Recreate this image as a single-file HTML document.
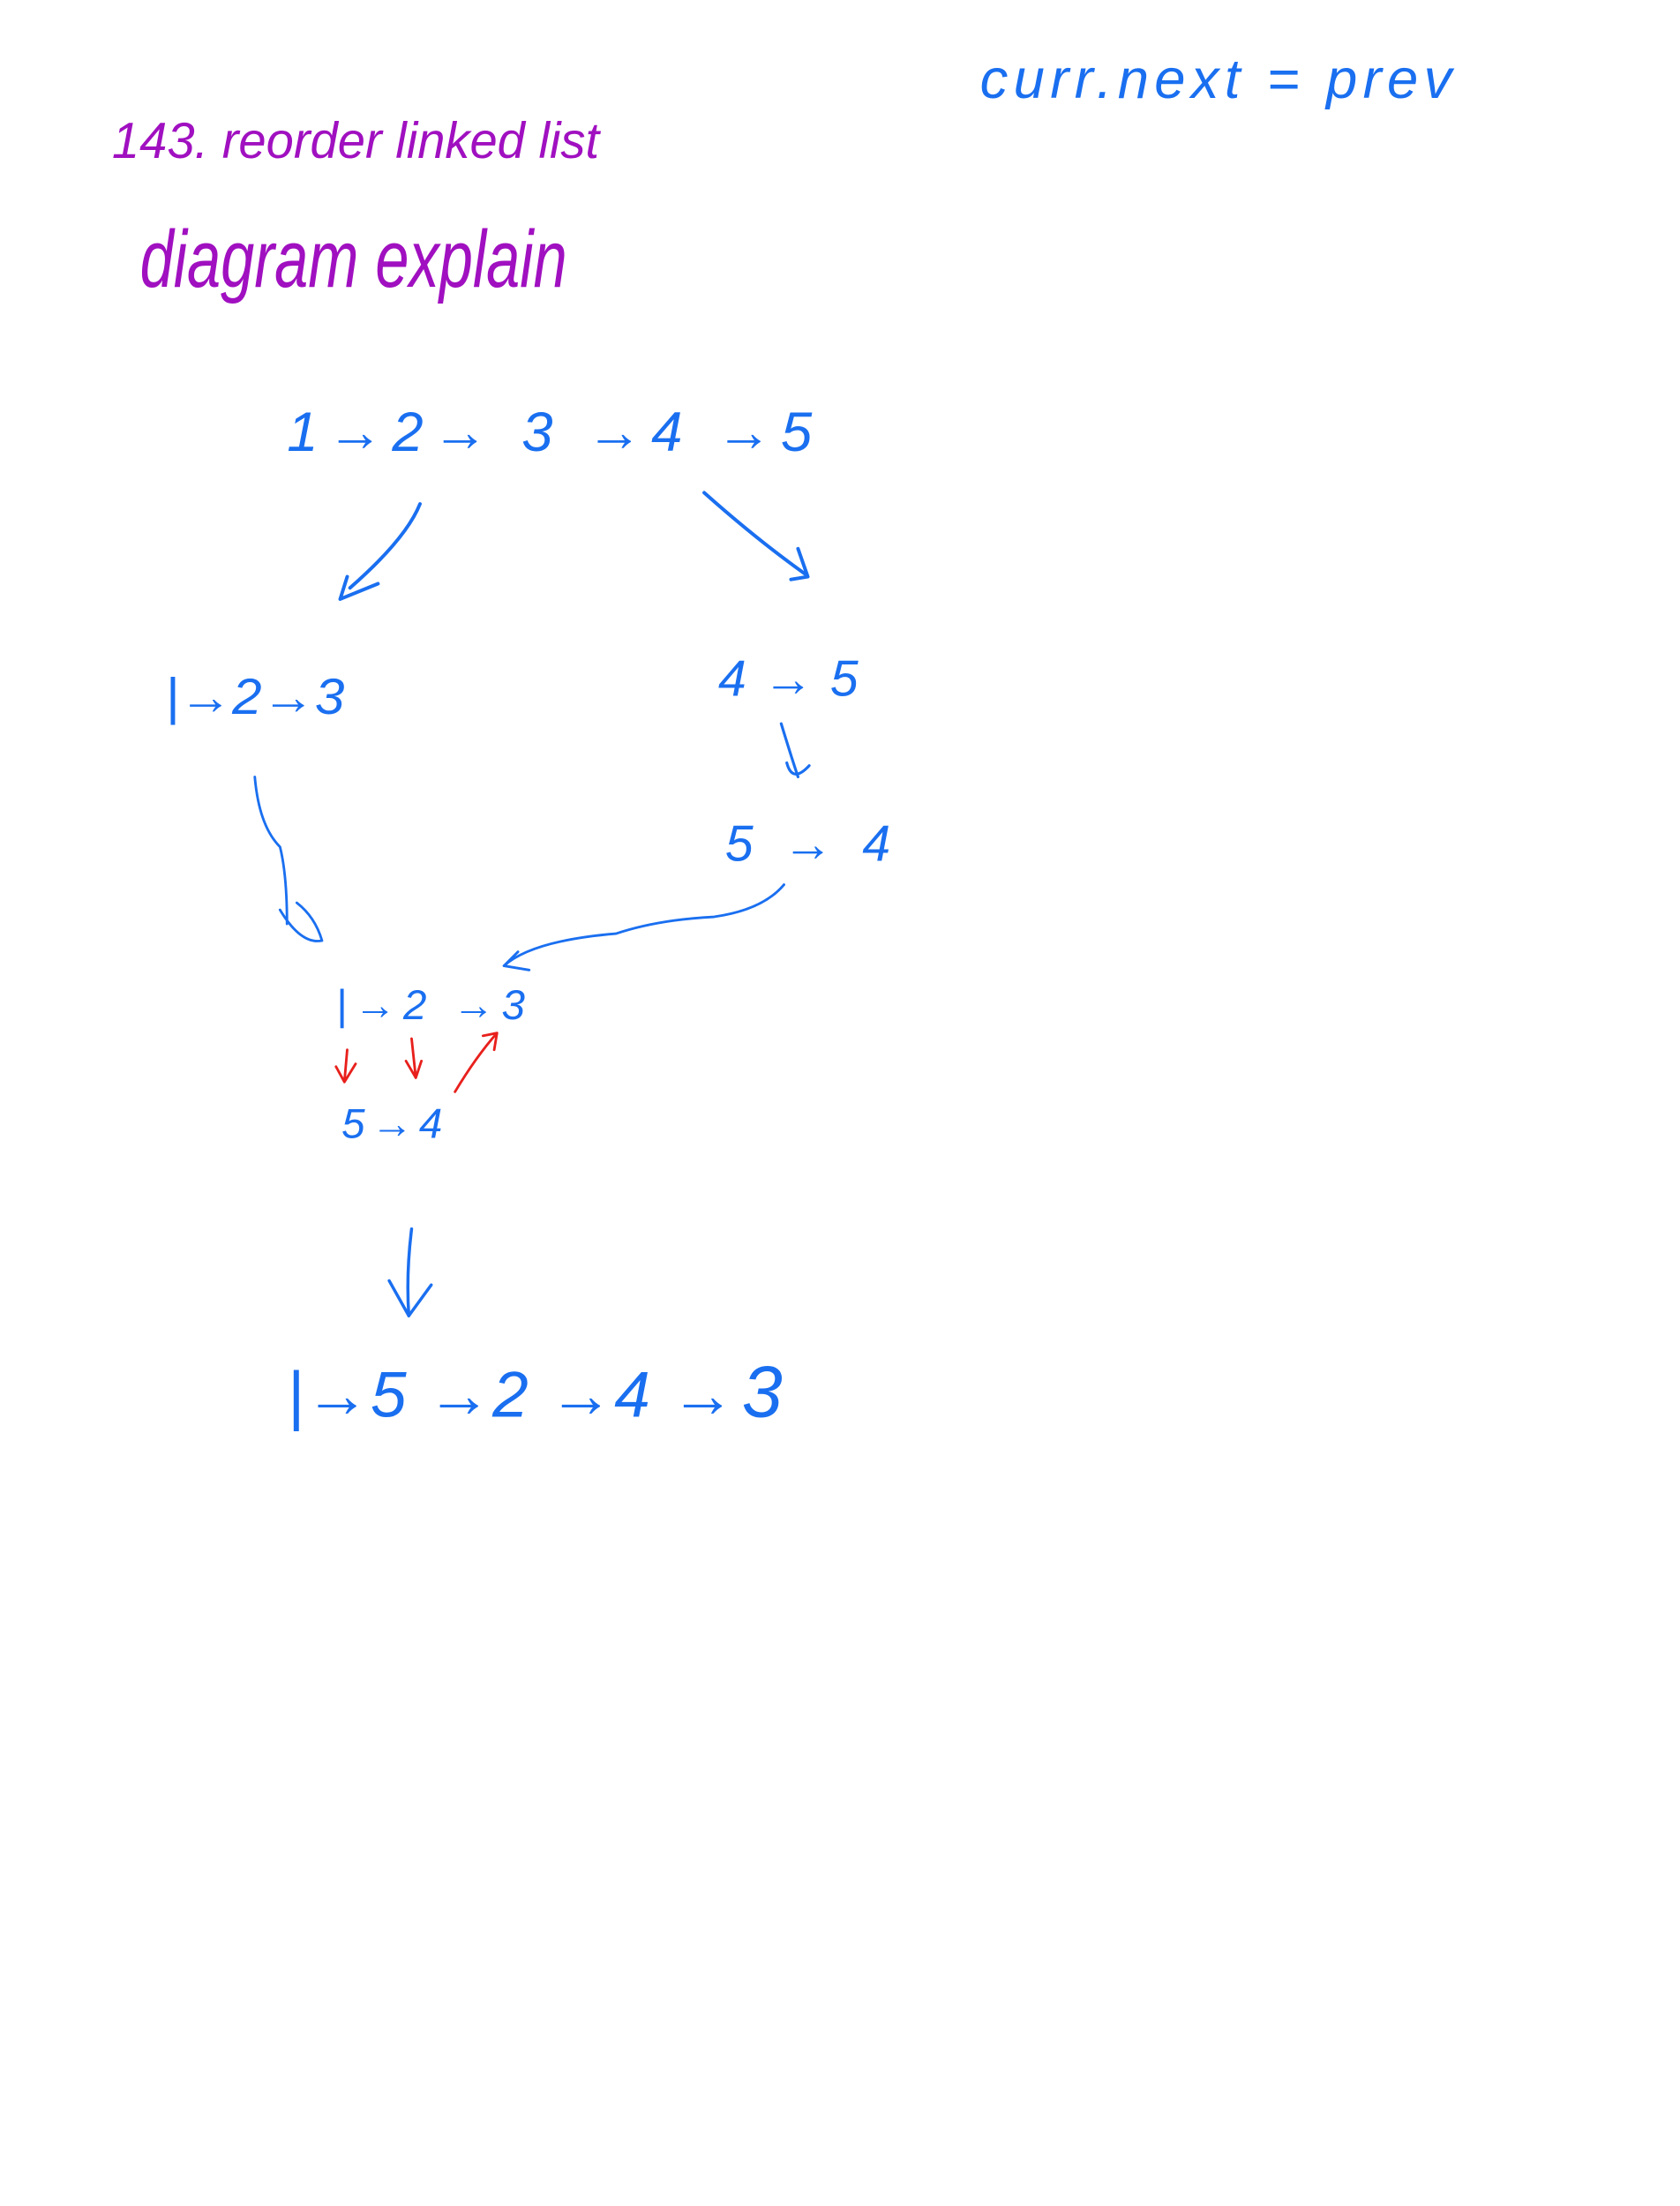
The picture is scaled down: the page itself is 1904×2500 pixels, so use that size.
<!DOCTYPE html>
<html>
<head>
<meta charset="utf-8">
<style>
  html,body{margin:0;padding:0;background:#fff;}
  svg{display:block;}
  text{font-family:"Liberation Sans",sans-serif;font-style:italic;font-weight:normal;}
</style>
</head>
<body>
<svg width="1904" height="2500" viewBox="0 0 1200 1576" preserveAspectRatio="none" xmlns="http://www.w3.org/2000/svg">
  <rect width="1200" height="1576" fill="#fff"/>
  <g fill="none" stroke-linecap="round" stroke-linejoin="round">
    <text x="700" y="70" font-size="40" fill="#1a6ff0" stroke="none" textLength="337" lengthAdjust="spacing">curr.next = prev</text>
    <text x="80" y="113" font-size="36" fill="#a010c0" stroke="none" textLength="348" lengthAdjust="spacingAndGlyphs">143. reorder linked list</text>
    <text x="100" y="205" font-size="58" fill="#a010c0" stroke="none" textLength="305" lengthAdjust="spacingAndGlyphs">diagram explain</text>

    <text x="205" y="322" font-size="40" fill="#1a6ff0" stroke="none" textLength="375" lengthAdjust="spacing">1→2→ 3 →4 →5</text>

    <g stroke="#1a6ff0" stroke-width="2.5">
      <path d="M300 360 Q290 385 250 420"/>
      <path d="M243 428 L248 412 M243 428 L270 417"/>
    </g>
    <g stroke="#1a6ff0" stroke-width="2.5">
      <path d="M503 352 Q540 385 575 410"/>
      <path d="M577 412 L570 392 M577 412 L565 414"/>
    </g>

    <text x="118" y="510" font-size="36" fill="#1a6ff0" stroke="none" textLength="128" lengthAdjust="spacingAndGlyphs">|→2→3</text>
    <text x="513" y="497" font-size="36" fill="#1a6ff0" stroke="none" textLength="100" lengthAdjust="spacing">4 → 5</text>

    <g stroke="#1a6ff0" stroke-width="2">
      <path d="M558 517 Q565 540 570 555"/>
      <path d="M562 545 Q566 560 578 547"/>
    </g>
    <text x="518" y="615" font-size="36" fill="#1a6ff0" stroke="none" textLength="118" lengthAdjust="spacing">5 → 4</text>

    <g stroke="#1a6ff0" stroke-width="1.8">
      <path d="M182 555 Q185 590 200 605 Q205 625 205 660"/>
      <path d="M200 650 Q215 675 230 672 Q225 655 212 645"/>
    </g>
    <g stroke="#1a6ff0" stroke-width="1.8">
      <path d="M560 632 Q545 650 510 655 Q470 657 440 667 Q380 672 360 690"/>
      <path d="M360 690 L370 680 M360 690 L378 693"/>
    </g>

    <text x="240" y="728" font-size="30" fill="#1a6ff0" stroke="none" textLength="135" lengthAdjust="spacing">|→2 →3</text>

    <g stroke="#e8201c" stroke-width="1.8">
      <path d="M248 750 L246 773 M240 762 L246 773 L254 760"/>
      <path d="M294 742 L297 770 M290 758 L297 770 L301 758"/>
      <path d="M325 780 Q340 755 355 738 M345 740 L355 738 L353 750"/>
    </g>

    <text x="244" y="813" font-size="30" fill="#1a6ff0" stroke="none" textLength="72" lengthAdjust="spacing">5→4</text>

    <g stroke="#1a6ff0" stroke-width="2.2">
      <path d="M294 878 Q290 910 292 940"/>
      <path d="M278 915 L292 940 L308 918"/>
    </g>

    <text x="205" y="1012" font-size="46" fill="#1a6ff0" stroke="none" textLength="320" lengthAdjust="spacing">|→5 →2 →4 →</text>
    <text x="530" y="1012" font-size="52" fill="#1a6ff0" stroke="none">3</text>
  </g>
</svg>
</body>
</html>
